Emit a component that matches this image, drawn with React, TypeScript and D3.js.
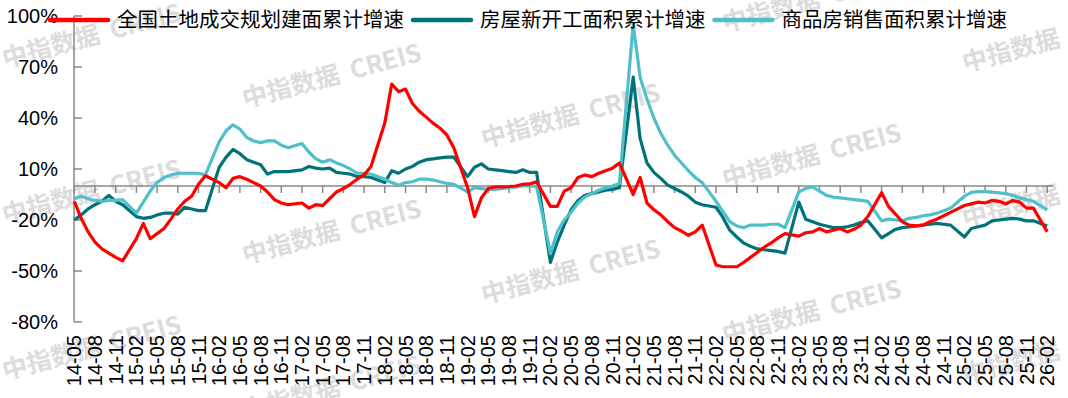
import React from 'react';
import * as d3 from 'd3';

// 月份类别 14-05 ... 26-02（1月无数据，用 null）
const months: string[] = d3
  .timeMonth.range(new Date(2014, 4, 1), new Date(2026, 2, 1))
  .map(d3.timeFormat('%y-%m'));

const yTicks = [-80, -50, -20, 10, 40, 70, 100];

const seriesNames = ['全国土地成交规划建面累计增速', '房屋新开工面积累计增速', '商品房销售面积累计增速'];
const seriesColors = ['#ff0000', '#00727a', '#4fbfca'];

type V = number | null;

// 全国土地成交规划建面累计增速 (%)
const landArea: V[] = [
  -9, -19, -27, -33, -37, -39.5, -42, -44,
  null, -31, -22, -31, -28, -25, -19.5, -13.5, -9, -6, 1, 6,
  null, 2, -1, 4.5, 5.5, 4, 2, 0, -3.5, -8, -10, -11,
  null, -10, -13, -11, -11.5, -7.5, -3.5, -1.5, 1, 4, 6.5, 11.5,
  null, 37, 60, 55.5, 57, 48.5, 44, 40.5, 37, 34, 30, 22.5,
  null, -1, -18, -7, -1.5, -0.5, -0.5, -0.3, 0, 1, 1.2, 2.5,
  null, -12, -12, -3, -1, 5, 6.5, 5.5, 7.5, 9, 10.5, 13.5,
  null, -5, 5, -10, -14, -17, -21, -24.5, -26.5, -29, -27, -23,
  null, -46.5, -47.5, -47.5, -47.5, -45, -42, -39, -36, -33.5, -30.5, -28,
  null, -29.5, -27.5, -27, -25, -27, -26, -25, -27, -25.5, -23, -18,
  null, -4, -12, -16.5, -21, -23, -23.5, -23, -21, -19.5, -17.5, -15.5,
  null, -11.5, -10.5, -9.5, -10, -8.5, -9, -10.5, -8.5, -9.5, -13, -13,
  null, -27,
];

// 房屋新开工面积累计增速 (%)
const newStarts: V[] = [
  -20, -17, -13.5, -11, -9, -5.5, -9, -11,
  null, -18, -19, -18.5, -17, -16, -16, -16.5, -12.5, -13.5, -14.5, -14.5,
  null, 11, 17, 21.5, 19, 15.5, 14, 12.5, 7, 8.5, 8.5, 8.5,
  null, 9.5, 11.5, 10.5, 10, 10.5, 8, 7.5, 7, 5.5, 5.5, 5,
  null, 2, 9, 7.5, 10, 11.5, 14, 15.5, 16, 16.5, 17, 17,
  null, 5.5, 11, 13, 10, 9.5, 9, 8.5, 8, 9.5, 8, 8,
  null, -45, -33, -23, -14, -8.5, -5.5, -4.5, -3.5, -2.5, -2, -1,
  null, 64, 28, 13.5, 8, 4.5, 0.5, -1.5, -3.5, -6, -9.5, -11,
  null, -12.5, -18.5, -26, -30, -33.5, -35.5, -37, -37.5, -38, -38.5, -39.5,
  null, -9.5, -19.5, -21, -22.5, -23.5, -24.5, -24.5, -24, -23, -21.5, -20.5,
  null, -30.5, -28, -25.5, -24.5, -24, -23.5, -23, -22.5, -22, -22.5, -23,
  null, -30, -25, -24, -23, -20.5, -20, -19.5, -19, -19.5, -20.5, -20.5,
  null, -23.5,
];

// 商品房销售面积累计增速 (%)
const salesArea: V[] = [
  -7.5, -6, -7.5, -8.5, -9, -8.5, -8.5, -8,
  null, -16, -9.5, -3, 2, 5, 6.5, 7.5, 7.5, 7.5, 7.5, 6.5,
  null, 26, 32.5, 36, 33.5, 28.5, 26.5, 25.5, 26.5, 26.5, 24, 22.5,
  null, 25, 20, 16, 14, 15.5, 13.5, 12, 10, 7.5, 7.5, 7,
  null, 4, 2, 0.5, 2, 2.5, 4, 4, 3.5, 2.5, 1.5, 1,
  null, -3.5, -1, -1.5, -2, -2, -1.5, -1, -0.5, 0, 0, -0.2,
  null, -39.5, -27, -20, -15.5, -10, -6.5, -4.5, -2.5, -1, 0, 1.5,
  null, 95, 64, 51, 40, 31, 24, 18, 13.5, 9, 5, 2,
  null, -9, -15, -21, -23.5, -24.5, -23, -23, -23, -22.5, -22.5, -24.5,
  null, -3.5, -1.5, -0.5, -3, -5.5, -6.5, -7, -7.5, -8, -8.5, -9,
  null, -20.5, -19.5, -20, -20.5, -19, -18.5, -17.5, -17, -16, -14.5, -13,
  null, -6, -3.8, -3.3, -3.3, -3.6, -4, -4.5, -5.5, -7, -8, -9,
  null, -14,
];

const allSeries = [landArea, newStarts, salesArea];
const drawOrder = [1, 2, 0]; // 红线在最上层

const W = 1068;
const H = 398;
const axisColor = '#898989';
const numFont = '"Liberation Sans", Arial, sans-serif';
const cjkFont = '"Noto Sans CJK SC", "Noto Sans", sans-serif';

export default function App() {
  const x = d3.scalePoint<string>().domain(months).range([74.3, 1047.2]);
  const y = d3.scaleLinear().domain([-80, 100]).range([322, 16]);

  const line = d3
    .line<{ m: string; v: number }>()
    .x((d) => x(d.m) as number)
    .y((d) => y(d.v));

  const pts = (s: V[]) =>
    s.map((v, i) => ({ m: months[i], v })).filter((d) => d.v !== null) as { m: string; v: number }[];

  const tickMonths = months.filter((_, i) => i % 3 === 0);

  // 水印（只保留画面内可见的）
  const marks: { x: number; y: number }[] = [];
  [5, 245, 484, 725, 965].forEach((cx, c) => {
    for (let k = -1; k < 4; k++) {
      const my = 68 + 40 * c - 156 + 156 * k;
      if (my > 30 && my < 430) marks.push({ x: cx, y: my });
    }
  });

  // 图例
  let lx = 48;
  const legend = seriesNames.map((name, i) => {
    const item = { x: lx, name, color: seriesColors[i] };
    lx += 62 + 7 + name.length * 20.5 + 7;
    return item;
  });

  return (
    <svg
      width={W}
      height={H}
      style={{ position: 'absolute', left: 0, top: 0, background: '#fff' }}
    >
      <rect width={W} height={H} fill="#fff" />
      <g fill="#dcdcdc" fontFamily={cjkFont} fontWeight="bold" fontSize={25}>
        {marks.map((p, i) => (
          <text key={i} transform={`translate(${p.x},${p.y}) rotate(-15)`} xmlSpace="preserve">
            中指数据  CREIS
          </text>
        ))}
      </g>

      {/* y axis */}
      <line x1={74} x2={74} y1={y(100)} y2={y(-80)} stroke={axisColor} strokeWidth={1.5} />
      {yTicks.map((t) => (
        <g key={t}>
          <line x1={74} x2={82} y1={y(t)} y2={y(t)} stroke={axisColor} strokeWidth={1.5} />
          <text x={58} y={y(t)} dy="0.35em" textAnchor="end" fontFamily={numFont} fontSize={20} fill="#000">
            {t}%
          </text>
        </g>
      ))}

      {/* x axis at 0 */}
      <line x1={74} x2={1053} y1={y(0)} y2={y(0)} stroke={axisColor} strokeWidth={1.5} />
      {tickMonths.map((m) => (
        <line key={m} x1={x(m)} x2={x(m)} y1={y(0)} y2={y(0) + 7} stroke={axisColor} strokeWidth={1.5} />
      ))}
      {tickMonths.map((m) => (
        <text
          key={m}
          transform={`translate(${x(m)},335) rotate(-90)`}
          textAnchor="end"
          dy="0.35em"
          fontFamily={numFont}
          fontSize={20}
          fill="#000"
        >
          {m}
        </text>
      ))}

      {/* lines */}
      {drawOrder.map((si) => (
        <path
          key={si}
          d={line(pts(allSeries[si])) || ''}
          fill="none"
          stroke={seriesColors[si]}
          strokeWidth={3.2}
          strokeLinejoin="round"
        />
      ))}

      {/* legend */}
      {legend.map((it) => (
        <g key={it.name}>
          <line x1={it.x + 2} x2={it.x + 60} y1={20} y2={20} stroke={it.color} strokeWidth={4.5} strokeLinecap="round" />
          <text x={it.x + 69} y={20} dy="0.36em" fontFamily={cjkFont} fontSize={20.5} fill="#000">
            {it.name}
          </text>
        </g>
      ))}
    </svg>
  );
}
